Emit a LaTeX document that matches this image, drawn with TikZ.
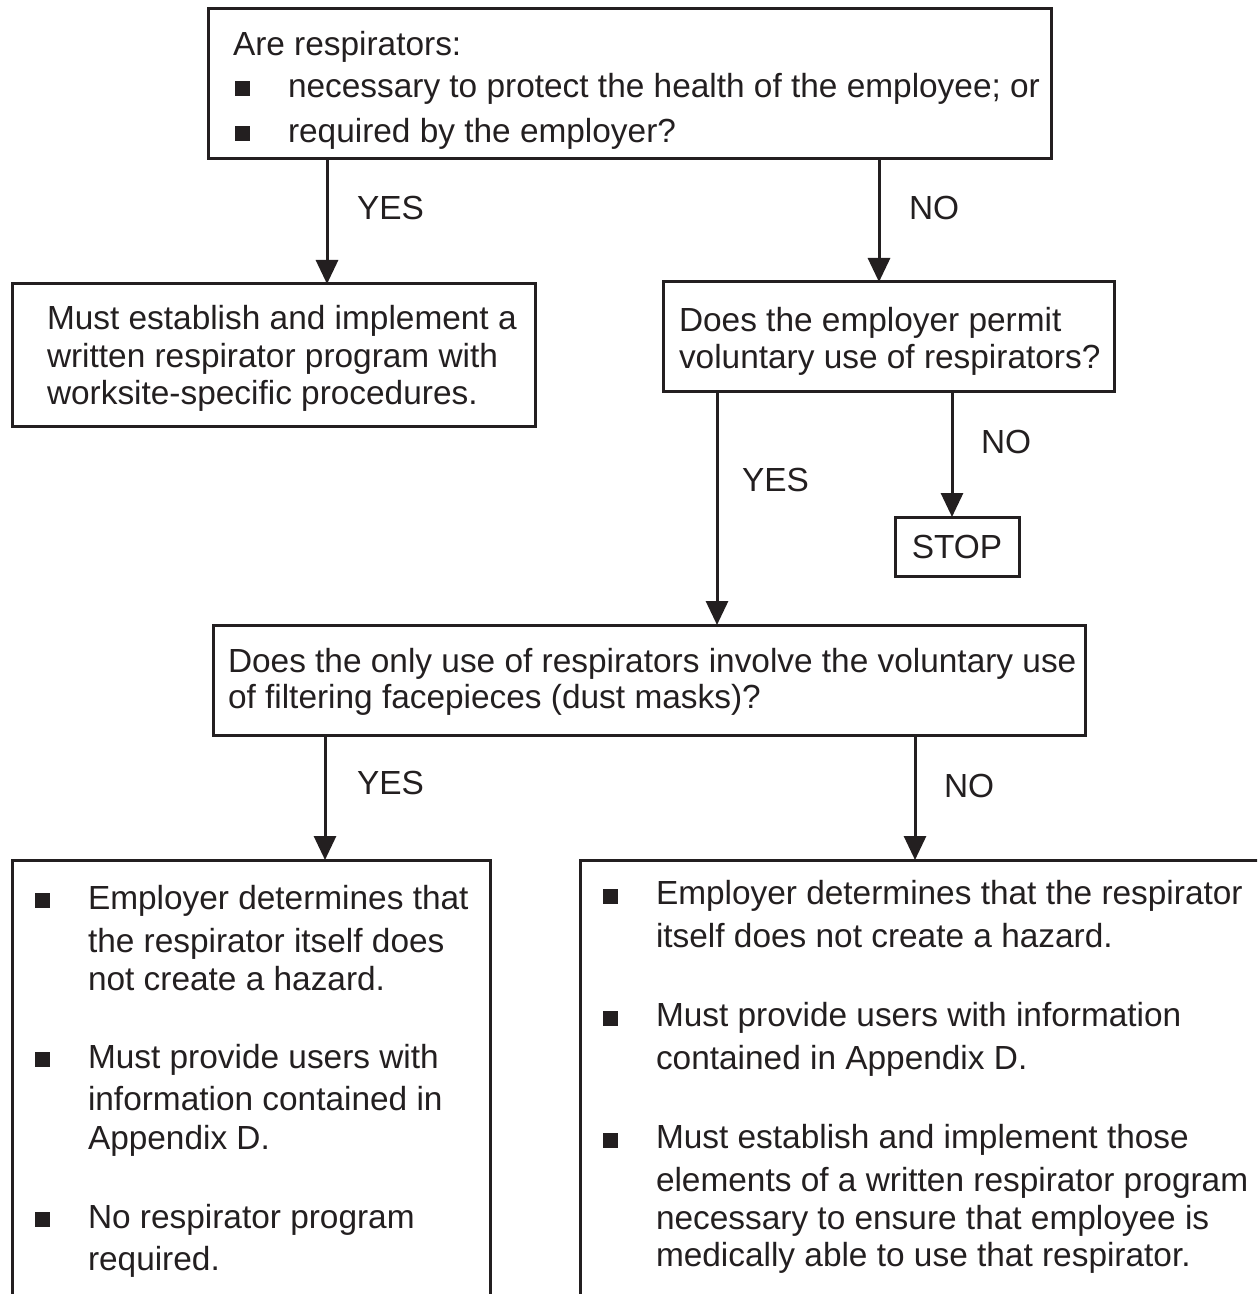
\documentclass[tikz,border=0pt]{standalone}
\usepackage{fontspec}
\setmainfont{Liberation Sans}
\usetikzlibrary{arrows.meta}
\definecolor{ink}{RGB}{35,31,32}
\begin{document}
\begin{tikzpicture}[x=0.5pt,y=-0.5pt,
  box/.style={draw=ink, line width=1.5pt, inner sep=0pt, outer sep=0pt, anchor=north west},
  txt/.style={anchor=base west, inner sep=0pt, outer sep=0pt, text=ink, font=\fontsize{16.7pt}{20pt}\selectfont},
  ctxt/.style={txt, anchor=base},
  bul/.style={fill=ink, inner sep=0pt, outer sep=0pt, minimum size=7.5pt},
  arr/.style={draw=ink, line width=1.5pt, -{Triangle[width=11pt,length=12pt]}}]
\useasboundingbox (0,0) rectangle (1257,1294);
\clip (0,0) rectangle (1257,1294);
\fill[white] (0,0) rectangle (1257,1294);
% boxes
\node[box, minimum width=421.5pt, minimum height=75pt] (top) at (208,9) {};
\node[box, minimum width=261.5pt, minimum height=71pt] (boxA) at (12,284) {};
\node[box, minimum width=225.5pt, minimum height=54.5pt] (boxB) at (663,282) {};
\node[box, minimum width=62pt, minimum height=29.5pt] (stop) at (895,517) {};
\node[box, minimum width=436pt, minimum height=55pt] (boxC) at (213,625) {};
\node[box, minimum width=239pt, minimum height=230pt] (boxD) at (12,860) {};
\node[box, minimum width=355pt, minimum height=230pt] (boxE) at (580,860) {};
% x positions of connectors
\coordinate (xa) at (327,0);
\coordinate (xb) at (879,0);
\coordinate (xc) at (717,0);
\coordinate (xs) at (952,0);
\coordinate (xd) at (325,0);
\coordinate (xe) at (915,0);
% connectors
\draw[arr] (top.south -| xa) -- (boxA.north -| xa);
\draw[arr] (top.south -| xb) -- (boxB.north -| xb);
\draw[arr] (boxB.south -| xc) -- (boxC.north -| xc);
\draw[arr] (boxB.south -| xs) -- (stop.north -| xs);
\draw[arr] (boxC.south -| xd) -- (boxD.north -| xd);
\draw[arr] (boxC.south -| xe) -- (boxE.north -| xe);
% labels
\node[txt] (l1) at (357,220) {YES};
\node[txt] (l2) at (909,220) {NO};
\node[txt] (l3) at (742,491) {YES};
\node[txt] (l4) at (981,453) {NO};
\node[txt] (l5) at (357,794) {YES};
\node[txt] (l6) at (944,797) {NO};
% top box text
\node[txt] (t0) at (233,56) {Are respirators:};
\node[bul] (tb1) at (242,89) {};
\node[txt] (t1) at (288,98) {necessary to protect the health of the employee; or};
\node[bul] (tb2) at (242,134) {};
\node[txt] (t2) at (288,143) {required by the employer?};
% box A
\node[txt] (a1) at (47,329) {Must establish and implement a};
\node[txt] (a2) at (47,367) {written respirator program with};
\node[txt] (a3) at (47,404) {worksite-specific procedures.};
% box B
\node[txt] (bt1) at (679,331) {Does the employer permit};
\node[txt] (bt2) at (679,368) {voluntary use of respirators?};
% stop
\node[ctxt] (st) at (957,558) {STOP};
% box C
\node[txt] (c1) at (228,672) {Does the only use of respirators involve the voluntary use};
\node[txt] (c2) at (228,708) {of filtering facepieces (dust masks)?};
% box D
\node[bul] (db1) at (42,900) {};
\node[txt] (d1) at (88,909) {Employer determines that};
\node[txt] (d2) at (88,952) {the respirator itself does};
\node[txt] (d3) at (88,990) {not create a hazard.};
\node[bul] (db2) at (42,1059) {};
\node[txt] (d4) at (88,1068) {Must provide users with};
\node[txt] (d5) at (88,1110) {information contained in};
\node[txt] (d6) at (88,1149) {Appendix D.};
\node[bul] (db3) at (42,1219) {};
\node[txt] (d7) at (88,1228) {No respirator program};
\node[txt] (d8) at (88,1270) {required.};
% box E
\node[bul] (eb1) at (610,896) {};
\node[txt] (e1) at (656,904) {Employer determines that the respirator};
\node[txt] (e2) at (656,947) {itself does not create a hazard.};
\node[bul] (eb2) at (610,1018) {};
\node[txt] (e3) at (656,1026) {Must provide users with information};
\node[txt] (e4) at (656,1069) {contained in Appendix D.};
\node[bul] (eb3) at (610,1140) {};
\node[txt] (e5) at (656,1148) {Must establish and implement those};
\node[txt] (e6) at (656,1191) {elements of a written respirator program};
\node[txt] (e7) at (656,1229) {necessary to ensure that employee is};
\node[txt] (e8) at (656,1266) {medically able to use that respirator.};
\end{tikzpicture}
\end{document}
